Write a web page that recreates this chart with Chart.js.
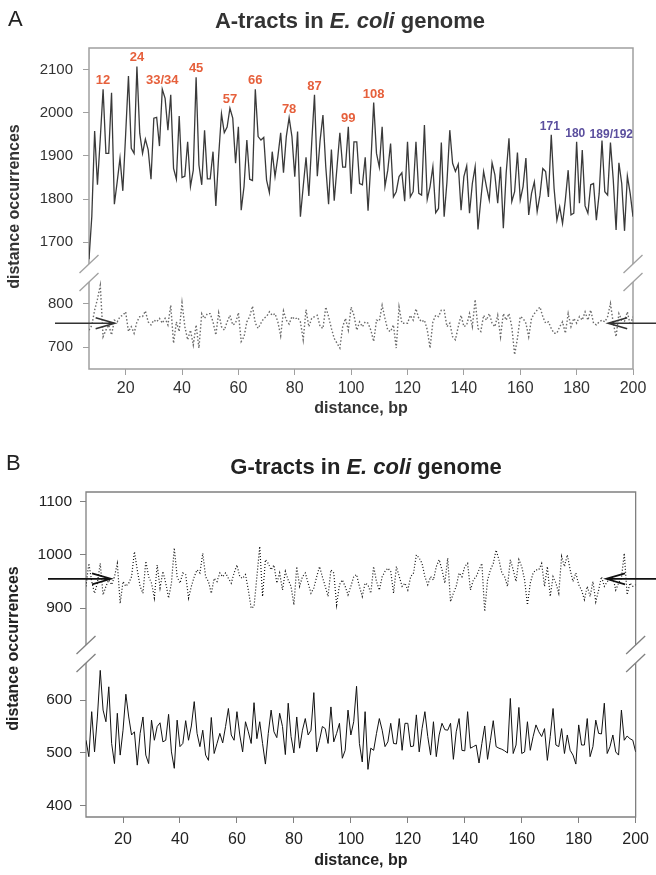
<!DOCTYPE html>
<html>
<head>
<meta charset="utf-8">
<script src="https://cdn.jsdelivr.net/npm/chart.js@4.4.1/dist/chart.umd.min.js"></script>
<style>
  html, body { margin: 0; padding: 0; background: #fff; }
  body { width: 656px; height: 875px; position: relative; overflow: hidden; font-family: "Liberation Sans", Arial, sans-serif; }
  .painel { position: absolute; left: 0; width: 656px; }
  #painelA { top: 0; height: 425px; }
  #painelB { top: 425px; height: 450px; }
  .letra { position: absolute; font-size: 22px; color: #222; line-height: 1; }
  .titulo { position: absolute; font-size: 22px; font-weight: bold; white-space: nowrap; transform: translateX(-50%); line-height: 1; }
</style>
</head>
<body>

<div class="painel" id="painelA"><canvas id="chartA" width="656" height="425"></canvas></div>
<div class="painel" id="painelB"><canvas id="chartB" width="656" height="450"></canvas></div>

<div class="letra" style="left:8px; top:8px;">A</div>
<div class="titulo" style="left:350px; top:10px; color:#333;">A-tracts in <i>E. coli</i> genome</div>
<div class="letra" style="left:6px; top:452px;">B</div>
<div class="titulo" style="left:366px; top:456px; color:#222;">G-tracts in <i>E. coli</i> genome</div>

<script>
/* =========== Distance occurrences of A- and G-tracts =========== */

// ----------------------------------------------------
//  DATA
// ----------------------------------------------------
const distancias = [
    7, 8, 9, 10, 11, 12, 13, 14, 15, 16, 17, 18, 19, 20, 21, 22, 23, 24, 25, 26,
    27, 28, 29, 30, 31, 32, 33, 34, 35, 36, 37, 38, 39, 40, 41, 42, 43, 44, 45, 46,
    47, 48, 49, 50, 51, 52, 53, 54, 55, 56, 57, 58, 59, 60, 61, 62, 63, 64, 65, 66,
    67, 68, 69, 70, 71, 72, 73, 74, 75, 76, 77, 78, 79, 80, 81, 82, 83, 84, 85, 86,
    87, 88, 89, 90, 91, 92, 93, 94, 95, 96, 97, 98, 99, 100, 101, 102, 103, 104, 105, 106,
    107, 108, 109, 110, 111, 112, 113, 114, 115, 116, 117, 118, 119, 120, 121, 122, 123, 124, 125, 126,
    127, 128, 129, 130, 131, 132, 133, 134, 135, 136, 137, 138, 139, 140, 141, 142, 143, 144, 145, 146,
    147, 148, 149, 150, 151, 152, 153, 154, 155, 156, 157, 158, 159, 160, 161, 162, 163, 164, 165, 166,
    167, 168, 169, 170, 171, 172, 173, 174, 175, 176, 177, 178, 179, 180, 181, 182, 183, 184, 185, 186,
    187, 188, 189, 190, 191, 192, 193, 194, 195, 196, 197, 198, 199, 200
];

// A-tracts, genome (solid line)
const aTractsGenoma = [
    1660, 1760, 1958, 1833, 1940, 2055, 1906, 1906, 2047, 1788,
    1840, 1895, 1819, 1950, 2086, 1918, 1906, 2108, 1953, 1906,
    1939, 1914, 1846, 1988, 1990, 1923, 2055, 2034, 1960, 2042,
    1871, 1846, 1993, 1850, 1853, 1933, 1829, 1867, 2083, 1879,
    1833, 1960, 1847, 1847, 1910, 1784, 1900, 1998, 1954, 1967,
    2011, 1988, 1883, 1968, 1774, 1829, 1937, 1846, 1843, 2055,
    1945, 1937, 1943, 1844, 1815, 1910, 1852, 1898, 1954, 1861,
    1945, 1989, 1945, 1852, 1957, 1759, 1829, 1897, 1807, 1929,
    2042, 1853, 1937, 1995, 1875, 1788, 1915, 1796, 1875, 1954,
    1874, 1874, 1968, 1812, 1933, 1933, 1836, 1833, 1897, 1773,
    1883, 2024, 1906, 1874, 1968, 1829, 1867, 1929, 1805, 1817,
    1852, 1861, 1795, 1933, 1805, 1817, 1933, 1813, 1809, 1972,
    1799, 1829, 1875, 1768, 1778, 1931, 1759, 1840, 1960, 1883,
    1864, 1881, 1774, 1852, 1877, 1767, 1836, 1875, 1729, 1798,
    1864, 1829, 1798, 1884, 1856, 1790, 1875, 1732, 1860, 1941,
    1794, 1817, 1908, 1798, 1829, 1895, 1763, 1813, 1840, 1771,
    1809, 1871, 1864, 1805, 1949, 1825, 1751, 1782, 1743, 1798,
    1867, 1763, 1767, 1933, 1790, 1914, 1784, 1767, 1833, 1836,
    1751, 1813, 1936, 1817, 1809, 1931, 1844, 1728, 1884, 1836,
    1726, 1853, 1813, 1759
];

// A-tracts, control (dotted line)
const aTractsControle = [
    739, 750, 785, 810, 842, 724, 739, 751, 728, 762,
    758, 770, 773, 781, 736, 747, 732, 758, 770, 770,
    783, 758, 751, 762, 758, 766, 755, 766, 751, 796,
    709, 758, 736, 802, 747, 717, 739, 705, 751, 698,
    777, 766, 777, 777, 758, 728, 779, 747, 739, 758,
    773, 751, 755, 779, 713, 724, 758, 770, 794, 755,
    743, 755, 766, 770, 781, 773, 777, 758, 726, 783,
    762, 753, 770, 764, 768, 758, 717, 786, 747, 766,
    770, 773, 747, 743, 792, 770, 743, 720, 709, 698,
    747, 766, 739, 792, 773, 739, 758, 747, 758, 755,
    739, 713, 762, 760, 796, 766, 739, 736, 751, 698,
    792, 755, 755, 755, 773, 762, 788, 766, 758, 762,
    740, 698, 758, 773, 770, 785, 785, 747, 755, 724,
    717, 747, 773, 747, 751, 777, 747, 809, 743, 736,
    773, 762, 777, 755, 747, 773, 724, 777, 762, 777,
    747, 683, 720, 770, 766, 755, 724, 766, 777, 785,
    792, 770, 755, 758, 743, 732, 732, 747, 758, 732,
    777, 747, 766, 755, 770, 762, 781, 762, 785, 755,
    751, 758, 762, 758, 770, 800, 755, 724, 777, 762,
    760, 781, 751, 770
];

// G-tracts, control (dotted line)
const gTractsControle = [
    941, 984, 950, 928, 947, 984, 925, 941, 953, 944,
    959, 984, 909, 950, 941, 947, 959, 1006, 972, 941,
    928, 988, 959, 947, 919, 981, 938, 969, 947, 919,
    947, 1013, 959, 947, 966, 963, 919, 941, 959, 972,
    966, 1003, 959, 950, 928, 956, 950, 966, 959, 966,
    956, 947, 966, 981, 959, 956, 963, 934, 900, 903,
    959, 1016, 922, 991, 984, 972, 981, 947, 966, 934,
    969, 953, 941, 906, 978, 941, 959, 966, 947, 928,
    938, 959, 978, 959, 941, 922, 972, 966, 906, 944,
    953, 941, 925, 941, 959, 963, 941, 922, 947, 944,
    928, 978, 950, 934, 959, 969, 975, 969, 928, 978,
    959, 941, 947, 934, 959, 966, 1000, 994, 984, 959,
    944, 959, 953, 978, 991, 972, 947, 994, 912, 928,
    941, 966, 959, 978, 984, 934, 953, 959, 972, 984,
    894, 953, 972, 984, 1009, 991, 966, 959, 941, 991,
    972, 950, 991, 978, 953, 906, 947, 966, 972, 972,
    984, 941, 978, 922, 959, 947, 928, 997, 978, 1000,
    972, 950, 966, 944, 934, 916, 941, 922, 950, 912,
    934, 959, 941, 950, 953, 959, 934, 947, 956, 1003,
    925, 947, 941, 944
];

// G-tracts, genome (solid line)
const gTractsGenoma = [
    524, 493, 578, 502, 568, 656, 581, 559, 625, 518,
    480, 575, 496, 543, 611, 568, 534, 540, 477, 537,
    568, 496, 480, 562, 524, 550, 557, 521, 524, 573,
    502, 471, 562, 512, 518, 561, 524, 551, 597, 537,
    512, 543, 496, 486, 567, 499, 518, 537, 519, 550,
    584, 534, 524, 578, 534, 502, 559, 540, 518, 595,
    527, 559, 518, 479, 537, 581, 540, 529, 575, 550,
    497, 594, 531, 500, 568, 509, 543, 565, 534, 543,
    614, 502, 524, 550, 546, 518, 587, 521, 537, 556,
    490, 505, 581, 534, 559, 626, 518, 483, 578, 469,
    509, 505, 537, 565, 543, 512, 521, 556, 518, 517,
    565, 505, 556, 556, 512, 513, 572, 502, 546, 578,
    531, 496, 559, 493, 534, 556, 544, 543, 556, 488,
    540, 565, 505, 504, 578, 509, 512, 515, 481, 518,
    551, 488, 524, 561, 512, 509, 507, 504, 500, 603,
    499, 515, 586, 499, 502, 559, 505, 531, 553, 540,
    531, 546, 486, 531, 584, 515, 512, 546, 499, 534,
    505, 496, 479, 553, 515, 515, 565, 493, 512, 562,
    537, 536, 594, 499, 512, 534, 502, 496, 581, 524,
    532, 527, 524, 502
];

// tick labels
const ticksX = [20, 40, 60, 80, 100, 120, 140, 160, 180, 200];
const ticksA_topo = [1700, 1800, 1900, 2000, 2100];
const ticksA_base = [700, 800];
const ticksB_topo = [900, 1000, 1100];
const ticksB_base = [400, 500, 600];

// peak labels (panel A)
const picosVermelhos = ["12", "24", "33/34", "45", "57", "66", "78", "87", "99", "108"];
const picosVermelhosPos = [12, 24, 33, 45, 57, 66, 78, 87, 99, 108];
const picosAzuis = ["171", "180", "189/192"];
const picosAzuisPos = [170.5, 179.5, 192.3];

// mean level pointed by the arrows
const nivelSetaA = 755;
const nivelSetaB = 955;

// ----------------------------------------------------
//  HELPERS
// ----------------------------------------------------
function pontos(valores) {
    return valores.map((v, i) => ({ x: distancias[i], y: v }));
}

function picoPerto(valores, d) {
    let max = -Infinity;
    distancias.forEach((x, i) => {
        if (Math.abs(x - d) <= 1) max = Math.max(max, valores[i]);
    });
    return max;
}

function seta(ctx, xCauda, xPonta, y) {
    const dir = Math.sign(xPonta - xCauda);
    ctx.beginPath();
    ctx.moveTo(xCauda, y);
    ctx.lineTo(xPonta, y);
    ctx.moveTo(xPonta - dir * 19, y - 5.5);
    ctx.lineTo(xPonta, y);
    ctx.lineTo(xPonta - dir * 19, y + 5.5);
    ctx.stroke();
}

// frame, axis breaks, arrows, y title
function pluginPainel(cfg) {
    return {
        id: "extras" + cfg.nome,
        beforeDatasetsDraw(chart) {
            const { ctx, chartArea: a } = chart;
            const b = chart.scales.yTopo.bottom;
            ctx.save();
            ctx.strokeStyle = cfg.corMoldura;
            ctx.lineWidth = cfg.larguraMoldura;
            ctx.beginPath();
            ctx.moveTo(a.left, b - 9); ctx.lineTo(a.left, a.top); ctx.lineTo(a.right, a.top); ctx.lineTo(a.right, b - 9);
            ctx.moveTo(a.left, b + 9); ctx.lineTo(a.left, a.bottom); ctx.lineTo(a.right, a.bottom); ctx.lineTo(a.right, b + 9);
            ctx.stroke();
            ctx.restore();
        },
        afterDraw(chart) {
            const { ctx, chartArea: a, scales } = chart;
            const b = scales.yTopo.bottom;
            ctx.save();

            // break marks
            ctx.strokeStyle = cfg.corMoldura;
            ctx.lineWidth = 1.3;
            [a.left, a.right].forEach(x0 => {
                [b - 9, b + 9].forEach(c => {
                    ctx.beginPath();
                    ctx.moveTo(x0 - 9.5, c + 9);
                    ctx.lineTo(x0 + 9.5, c - 9);
                    ctx.stroke();
                });
            });

            // arrows
            const ySeta = scales[cfg.eixoSeta].getPixelForValue(cfg.nivelSeta);
            ctx.strokeStyle = cfg.corSeta;
            ctx.lineWidth = 1.6;
            seta(ctx, cfg.caudaEsq, scales.x.getPixelForValue(cfg.pontaEsq), ySeta);
            seta(ctx, chart.width, scales.x.getPixelForValue(cfg.pontaDir), ySeta);

            // peak labels
            if (cfg.picos) {
                ctx.textAlign = "center";
                ctx.textBaseline = "alphabetic";
                cfg.picos.forEach(grupo => {
                    ctx.fillStyle = grupo.cor;
                    ctx.font = "bold " + grupo.fonte + "px 'Liberation Sans', Arial, sans-serif";
                    grupo.textos.forEach((t, i) => {
                        const d = grupo.pos[i];
                        const px = scales.x.getPixelForValue(d);
                        const py = scales.yTopo.getPixelForValue(picoPerto(aTractsGenoma, Math.round(d)));
                        ctx.fillText(t, px, py - 5);
                    });
                });
            }

            // y axis title
            ctx.fillStyle = cfg.corTexto;
            ctx.font = "bold 16px 'Liberation Sans', Arial, sans-serif";
            ctx.textAlign = "center";
            ctx.textBaseline = "middle";
            ctx.translate(cfg.xTituloY, (a.top + a.bottom) / 2 + cfg.dyTituloY);
            ctx.rotate(-Math.PI / 2);
            ctx.fillText("distance occurrences", 0, 0);
            ctx.restore();
        }
    };
}

function eixoY(ticks, min, max, peso, cfg) {
    return {
        type: "linear",
        position: "left",
        stack: "y",
        stackWeight: peso,
        min: min,
        max: max,
        border: { display: false },
        grid: { display: true, drawOnChartArea: false, drawTicks: true, tickLength: 6, color: cfg.corMoldura },
        ticks: {
            color: cfg.corTexto,
            padding: cfg.padY,
            font: { family: "'Liberation Sans', Arial, sans-serif", size: cfg.fonteY },
            callback: v => String(v)
        },
        afterBuildTicks: s => { s.ticks = ticks.map(v => ({ value: v })); },
        afterFit: s => { s.width = cfg.larguraY; }
    };
}

function criarPainel(canvasId, cfg) {
    return new Chart(document.getElementById(canvasId), {
        type: "line",
        data: {
            datasets: [
                {
                    data: pontos(cfg.serieTopo),
                    yAxisID: "yTopo",
                    borderColor: cfg.corTopo,
                    borderWidth: cfg.larguraTopo,
                    borderDash: cfg.tracoTopo,
                    pointRadius: 0,
                    tension: 0
                },
                {
                    data: pontos(cfg.serieBase),
                    yAxisID: "yBase",
                    borderColor: cfg.corBase,
                    borderWidth: cfg.larguraBase,
                    borderDash: cfg.tracoBase,
                    pointRadius: 0,
                    tension: 0
                }
            ]
        },
        options: {
            responsive: false,
            animation: false,
            layout: { padding: cfg.padding },
            plugins: { legend: { display: false }, tooltip: { enabled: false } },
            scales: {
                x: {
                    type: "linear",
                    min: 7,
                    max: 200,
                    border: { display: false },
                    grid: { display: true, drawOnChartArea: false, drawTicks: true, tickLength: 6, color: cfg.corMoldura },
                    ticks: {
                        color: cfg.corTexto,
                        padding: cfg.padX,
                        maxRotation: 0,
                        font: { family: "'Liberation Sans', Arial, sans-serif", size: cfg.fonteX },
                        callback: v => String(v)
                    },
                    title: {
                        display: true,
                        text: "distance, bp",
                        color: cfg.corTexto,
                        font: { family: "'Liberation Sans', Arial, sans-serif", size: 16, weight: "bold" },
                        padding: { top: 0, bottom: cfg.padTituloX }
                    },
                    afterBuildTicks: s => { s.ticks = ticksX.map(v => ({ value: v })); },
                    afterFit: s => { s.height = cfg.alturaX; }
                },
                // the later scale is stacked on top
                yBase: eixoY(cfg.ticksBase, cfg.minBase, cfg.maxBase, cfg.pesoBase, cfg),
                yTopo: eixoY(cfg.ticksTopo, cfg.minTopo, cfg.maxTopo, cfg.pesoTopo, cfg)
            }
        },
        plugins: [pluginPainel(cfg)]
    });
}

// ----------------------------------------------------
//  PANEL A
// ----------------------------------------------------
criarPainel("chartA", {
    nome: "A",
    serieTopo: aTractsGenoma, corTopo: "#3a3a3a", larguraTopo: 1.3, tracoTopo: [],
    serieBase: aTractsControle, corBase: "#6a6a6a", larguraBase: 1.4, tracoBase: [1.5, 2],
    ticksTopo: ticksA_topo, minTopo: 1628, maxTopo: 2151, pesoTopo: 225,
    ticksBase: ticksA_base, minBase: 650, maxBase: 870, pesoBase: 96,
    padding: { top: 48, right: 23, left: 0, bottom: 6 },
    larguraY: 89, alturaX: 50, padY: 10, padX: 4, padTituloX: 1,
    fonteY: 15, fonteX: 16,
    corMoldura: "#a0a0a0", larguraMoldura: 1.5, corTexto: "#333",
    nivelSeta: nivelSetaA, eixoSeta: "yBase", caudaEsq: 55, pontaEsq: 16.1, pontaDir: 191.2, corSeta: "#333",
    xTituloY: 15, dyTituloY: -2,
    picos: [
        { textos: picosVermelhos, pos: picosVermelhosPos, cor: "#e6603c", fonte: 13 },
        { textos: picosAzuis, pos: picosAzuisPos, cor: "#5b4f9e", fonte: 12 }
    ]
});

// ----------------------------------------------------
//  PANEL B
// ----------------------------------------------------
criarPainel("chartB", {
    nome: "B",
    serieTopo: gTractsControle, corTopo: "#111", larguraTopo: 1.2, tracoTopo: [1, 2],
    serieBase: gTractsGenoma, corBase: "#111", larguraBase: 1, tracoBase: [],
    ticksTopo: ticksB_topo, minTopo: 814, maxTopo: 1118, pesoTopo: 162,
    ticksBase: ticksB_base, minBase: 379, maxBase: 687, pesoBase: 163,
    padding: { top: 67, right: 19, left: 0, bottom: 2 },
    larguraY: 86, alturaX: 56, padY: 8, padX: 7, padTituloX: 3,
    fonteY: 15.5, fonteX: 16,
    corMoldura: "#808080", larguraMoldura: 1.3, corTexto: "#222",
    nivelSeta: nivelSetaB, eixoSeta: "yTopo", caudaEsq: 48, pontaEsq: 15.8, pontaDir: 189.6, corSeta: "#111",
    xTituloY: 14, dyTituloY: -6,
    picos: null
});
</script>
</body>
</html>
